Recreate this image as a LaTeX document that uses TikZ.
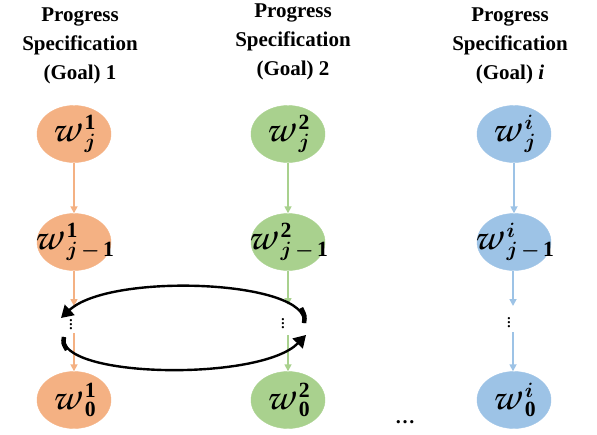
\documentclass[tikz,border=0pt]{standalone}
\usepackage{amsmath}
\usepackage{bm}
\IfFileExists{t1pzc.fd}{%
  \newcommand\scw{\mbox{\fontencoding{T1}\fontfamily{pzc}\fontseries{mb}\fontshape{it}\fontsize{40}{40}\selectfont w}}}{%
  \IfFileExists{calligra.sty}{%
    \usepackage{calligra}\newcommand\scw{\mbox{\fontsize{44}{44}\calligra w}}}{%
    \newcommand\scw{\bm{w}}}}
\usepackage{fontspec}
\setmainfont{Liberation Serif}
\usetikzlibrary{shapes.geometric,arrows.meta}
\definecolor{cor}{HTML}{F4B183}
\definecolor{cgr}{HTML}{A9D18E}
\definecolor{cbl}{HTML}{9DC3E6}
\tikzset{
  goal/.style={align=center,font=\bfseries\fontsize{21}{29}\selectfont},
  wnode/.style={ellipse,fill=#1,draw=#1,minimum width=74pt,minimum height=57pt,inner sep=0pt,font=\fontsize{31}{33}\selectfont},
  flow/.style={draw=#1,line width=1.6pt,-{Triangle[length=7pt,width=7pt]}},
  cyc/.style={draw=black,line width=2.4pt,-{Triangle[length=12pt,width=14pt]}},
  cyctail/.style={draw=black,line width=4.5pt},
  dotsn/.style={inner sep=0pt,font=\fontsize{19}{19}\selectfont}
}
\newcommand{\wlab}[2]{\makebox[0pt]{$\scw^{\;#1}_{\;#2}$}}
\begin{document}
\begin{tikzpicture}[x=1pt,y=-1pt]
\useasboundingbox (0,0) rectangle (597,434);
% titles
\node[goal] (t1) at (80,46) {Progress\\Specification\\(Goal) 1};
\node[goal] (t2) at (293,42) {Progress\\Specification\\(Goal) 2};
\node[goal] (t3) at (510,46) {Progress\\Specification\\(Goal) \textit{i}};
% column 1
\node[wnode=cor] (a1) at (74,134) {\wlab{\mathbf{1}}{\bm{j}}};
\node[wnode=cor] (a2) at (74,242) {\wlab{\mathbf{1}}{\bm{j}\,\bm{-}\,\mathbf{1}}};
\node[wnode=cor] (a3) at (74,400) {\wlab{\mathbf{1}}{\mathbf{0}}};
\node[dotsn] (ad) at (71,322) {$\vdots$};
\coordinate (a2e) at (74,306);
\coordinate (a3s) at (74,333);
% column 2
\node[wnode=cgr] (b1) at (288,134) {\wlab{\mathbf{2}}{\bm{j}}};
\node[wnode=cgr] (b2) at (288,242) {\wlab{\mathbf{2}}{\bm{j}\,\bm{-}\,\mathbf{1}}};
\node[wnode=cgr] (b3) at (288,400) {\wlab{\mathbf{2}}{\mathbf{0}}};
\node[dotsn] (bd) at (283,321) {$\vdots$};
\coordinate (b2e) at (288,305);
\coordinate (b3s) at (288,335);
% column 3
\node[wnode=cbl] (c1) at (514,134) {\wlab{\bm{i}}{\bm{j}}};
\node[wnode=cbl] (c2) at (514,242) {\wlab{\bm{i}}{\bm{j}\,\bm{-}\,\mathbf{1}}};
\node[wnode=cbl] (c3) at (514,400) {\wlab{\bm{i}}{\mathbf{0}}};
\node[dotsn] (cd) at (509,320) {$\vdots$};
\coordinate (c2e) at (513,306);
\coordinate (c3s) at (513,332);
% dots bottom
\node[dotsn,font=\bfseries\fontsize{20}{20}\selectfont] (hd) at (405,422) {\dots};
% arrows
\draw[flow=cor] (a1) -- (a2);
\draw[flow=cor] (a2) -- (a2e);
\draw[flow=cor] (a3s) -- (a3);
\draw[flow=cgr] (b1) -- (b2);
\draw[flow=cgr] (b2) -- (b2e);
\draw[flow=cgr] (b3s) -- (b3);
\draw[flow=cbl] (c1) -- (c2);
\draw[flow=cbl] (c2.south -| c2e) -- (c2e);
\draw[flow=cbl] (c3s) -- (c3.north -| c3s);
% cycle arrows
\coordinate (ur) at (304,323);
\coordinate (ul) at (61,318);
\coordinate (ll) at (64,337);
\coordinate (lr) at (306,335);
\draw[cyc] (ur) .. controls (310,280) and (110,272) .. (ul);
\draw[cyc] (ll) .. controls (56,378) and (260,382) .. (lr);
\draw[cyctail] (ur) .. controls (305,316) .. (301,308);
\draw[cyctail] (ll) .. controls (63,343) .. (67,350);
\end{tikzpicture}
\end{document}
